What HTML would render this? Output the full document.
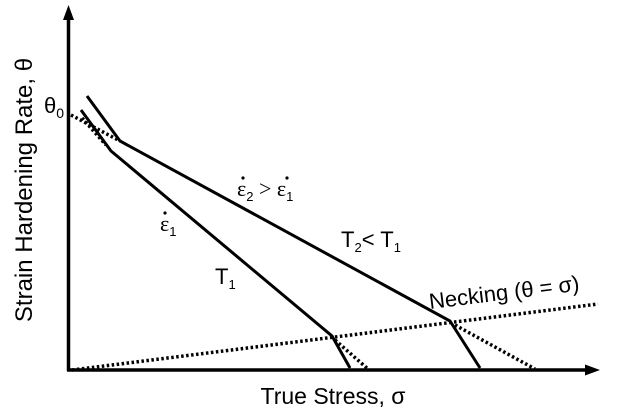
<!DOCTYPE html>
<html><head><style>
body{margin:0;background:#fff;}
svg{display:block;font-family:"Liberation Sans",sans-serif;}
</style></head><body>
<svg width="621" height="417" viewBox="0 0 621 417" xmlns="http://www.w3.org/2000/svg">
<g stroke="#000" fill="none">
<line x1="68.5" y1="14" x2="68.5" y2="371" stroke-width="3.5"/>
<line x1="67" y1="370" x2="592" y2="370" stroke-width="3.5"/>
<polyline points="81,110 111,151 332,336 350,368" stroke-width="3"/>
<polyline points="87,96 120,141 450,321 480,368" stroke-width="3"/>
<g stroke-width="3.5" stroke-dasharray="2.5,2.5">
<line x1="71" y1="115" x2="120" y2="141"/>
<line x1="82" y1="118" x2="106" y2="145"/>
<line x1="335" y1="340" x2="368" y2="369"/>
<line x1="455" y1="325" x2="535" y2="369"/>
<line x1="72" y1="370" x2="598" y2="304"/>
</g>
</g>
<polygon points="68.5,5 63,20 74,20" fill="#000"/>
<polygon points="600,370 585,364.5 585,375.5" fill="#000"/>
<text x="0" y="0" font-size="24" transform="translate(32,190) rotate(-90)" text-anchor="middle">Strain Hardening Rate, θ</text>
<text x="333" y="404" font-size="23" text-anchor="middle">True Stress, σ</text>
<text x="44" y="113" font-size="22">θ<tspan font-size="14" dy="5">0</tspan></text>
<g fill="#000">
<circle cx="165" cy="213" r="1.6"/>
<circle cx="243" cy="178" r="1.6"/>
<circle cx="287" cy="178" r="1.6"/>
</g>
<text x="160" y="231" font-family="Liberation Serif" font-size="22">ε<tspan font-family="Liberation Sans" font-size="13" dy="5">1</tspan></text>
<text x="215" y="284" font-size="22">T<tspan font-size="13" dy="5">1</tspan></text>
<text x="237" y="196" font-family="Liberation Serif" font-size="22">ε<tspan font-family="Liberation Sans" font-size="13" dy="5">2</tspan><tspan dy="-5"> &gt; ε</tspan><tspan font-family="Liberation Sans" font-size="13" dy="5">1</tspan></text>
<text x="341" y="247" font-size="22">T<tspan font-size="13" dy="5">2</tspan><tspan dy="-5">&lt; T</tspan><tspan font-size="13" dy="5">1</tspan></text>
<text x="430" y="309" font-size="22" transform="rotate(-7 430 309)">Necking (θ = σ)</text>
</svg>
</body></html>
